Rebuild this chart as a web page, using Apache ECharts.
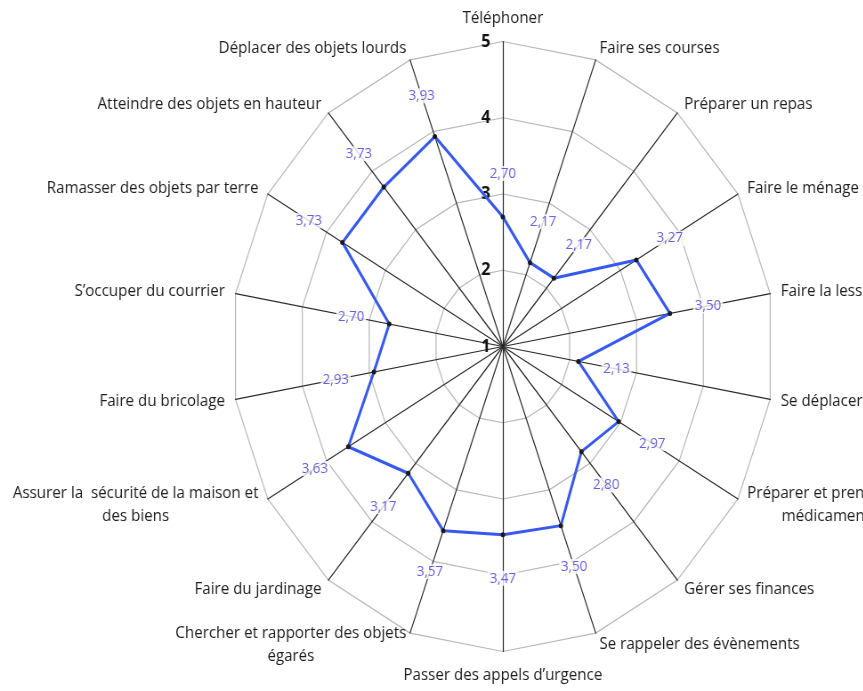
<!DOCTYPE html>
<html><head><meta charset="utf-8">
<script src="https://cdn.jsdelivr.net/npm/echarts@6/dist/echarts.min.js"></script>
<style>
html,body{margin:0;padding:0;background:#fff;overflow:hidden;width:863px;height:691px}
#chart{width:970px;height:691px;transform:scaleX(0.89);transform-origin:0 0;}
</style>
</head><body><div id="chart"></div>
<script>
// Categories, clockwise from the top
const categories = [
  'Téléphoner',
  'Faire ses courses',
  'Préparer un repas',
  'Faire le ménage',
  'Faire la lessive',
  'Se déplacer',
  'Préparer et prendre les\nmédicaments',
  'Gérer ses finances',
  'Se rappeler des évènements',
  'Passer des appels d’urgence',
  'Chercher et rapporter des objets\négarés',
  'Faire du jardinage',
  'Assurer la  sécurité de la maison et\ndes biens',
  'Faire du bricolage',
  'S’occuper du courrier',
  'Ramasser des objets par terre',
  'Atteindre des objets en hauteur',
  'Déplacer des objets lourds'
];
const values = [2.70, 2.17, 2.17, 3.27, 3.50, 2.13, 2.97, 2.80, 3.50, 3.47, 3.57, 3.17, 3.63, 2.93, 2.70, 3.73, 3.73, 3.93];
const scaleMin = 1;
const scaleMax = 5;
const tickStep = 1;

const FONT = '"Open Sans", sans-serif';
const LABEL_OFFSET = 0.57;
const CENTER = [565, 346.5];
const RADIUS = 305;

// ECharts radar runs counter-clockwise: reorder so the chart reads clockwise
const n = categories.length;
const order = [0];
for (let i = n - 1; i >= 1; i--) order.push(i);
const step = 360 / n;
const fmt = v => v.toFixed(2).replace('.', ',');

const chart = echarts.init(document.getElementById('chart'));
chart.setOption({
  animation: false,
  backgroundColor: '#ffffff',
  radar: {
    center: CENTER,
    radius: RADIUS,
    startAngle: 90,
    shape: 'polygon',
    splitNumber: (scaleMax - scaleMin) / tickStep,
    nameGap: 12,
    indicator: order.map(i => ({ name: categories[i], min: scaleMin, max: scaleMax })),
    axisName: {
      color: '#1e1e1e',
      fontFamily: FONT,
      fontSize: 17,
      formatter: name => name.split('\n').map(l => '{c|' + l + '}').join('\n'),
      rich: { c: { align: 'center', color: '#1e1e1e', fontFamily: FONT, fontSize: 17, lineHeight: 23 } }
    },
    axisLine: { lineStyle: { color: '#2a2a2a', width: 1.2 } },
    splitLine: { lineStyle: { color: '#b8b8b8', width: 1.2 } },
    splitArea: { show: false },
    axisTick: { show: false },
    axisLabel: { show: false }
  },
  polar: { center: CENTER, radius: RADIUS },
  angleAxis: { type: 'value', min: 0, max: 360, startAngle: 90, clockwise: true, show: false },
  radiusAxis: {
    type: 'value', min: scaleMin, max: scaleMax, interval: tickStep,
    axisLine: { show: false }, axisTick: { show: false }, splitLine: { show: false },
    axisLabel: { show: true, margin: 14, fontWeight: 'bold', fontSize: 18, color: '#111', fontFamily: FONT }
  },
  series: [
    {
      type: 'radar',
      symbol: 'circle',
      symbolSize: 5,
      itemStyle: { color: '#1a1a1a', borderWidth: 0 },
      lineStyle: { color: '#3659f2', width: 3 },
      z: 3,
      data: [{ value: order.map(i => values[i]) }]
    },
    {
      type: 'scatter',
      coordinateSystem: 'polar',
      symbolSize: 1,
      itemStyle: { color: 'rgba(0,0,0,0)' },
      silent: true,
      z: 4,
      data: values.map((v, i) => [v + LABEL_OFFSET, i * step, v]),
      label: {
        show: true, position: 'inside',
        formatter: p => fmt(p.value[2]),
        color: '#4038e2', fontSize: 15, fontFamily: FONT,
        backgroundColor: '#ffffff', padding: [0, 2]
      }
    }
  ]
});
</script>
</body></html>
